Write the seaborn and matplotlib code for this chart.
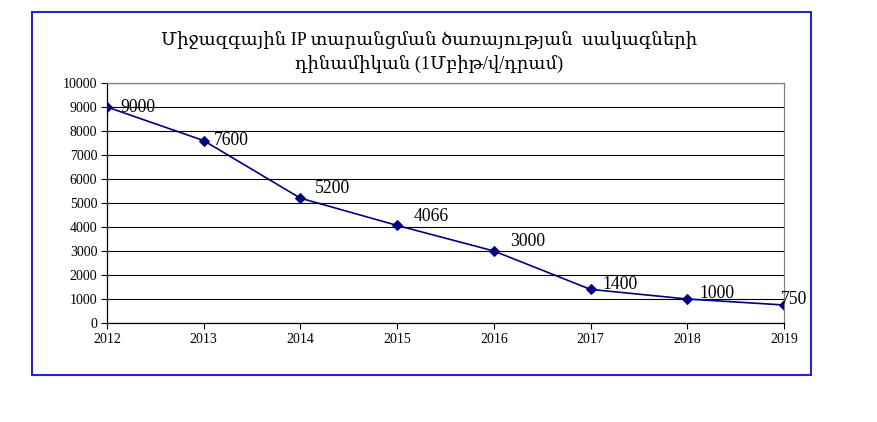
import matplotlib
matplotlib.use("Agg")
import matplotlib.pyplot as plt
import seaborn as sns
import pandas as pd
from matplotlib.patches import Rectangle

years = [2012, 2013, 2014, 2015, 2016, 2017, 2018, 2019]
prices = [9000, 7600, 5200, 4066, 3000, 1400, 1000, 750]
title = "Միջազգային IP տարանցման ծառայության  սակագների\nդինամիկան (1Մբիթ/վ/դրամ)"

sns.set_theme(style="white")
plt.rcParams['font.family'] = ['Liberation Serif', 'DejaVu Serif']

df = pd.DataFrame({"year": years, "price": prices})

fig = plt.figure(figsize=(8.78, 4.22), dpi=100)
W, H = 878, 422
ax = fig.add_axes([107 / W, 1 - 323 / H, (784 - 107) / W, (323 - 83) / H])

sns.lineplot(data=df, x="year", y="price", ax=ax, color="#000080", lw=1.2,
             marker="D", markersize=5.5, markeredgecolor="#000080")

ax.set_xlim(2012, 2019)
ax.set_ylim(0, 10000)
ax.set_yticks(range(0, 10001, 1000))
ax.set_xticks(years)
ax.yaxis.grid(True, color="black", lw=0.8)
ax.xaxis.grid(False)
ax.set_xlabel("")
ax.set_ylabel("")
for s in ["left", "bottom"]:
    ax.spines[s].set_color("black")
    ax.spines[s].set_linewidth(0.9)
for s in ["top", "right"]:
    ax.spines[s].set_color("#808080")
    ax.spines[s].set_linewidth(0.9)
ax.tick_params(axis="both", which="both", direction="out", length=4, width=0.8,
               color="black", labelsize=10, labelcolor="black", pad=3)
ax.tick_params(left=True, bottom=True)

# label offsets in pixels (dx, dy up)
offsets_px = [(13, 0), (10, 0), (14, 10), (16, 9), (16, 9), (12, 5), (12, 5), (-3, 6)]
for (x, y), (dx, dy) in zip(zip(years, prices), offsets_px):
    ax.annotate(str(y), (x, y), xytext=(dx * 0.72, dy * 0.72), textcoords="offset points",
                ha="left", va="center", fontsize=12.7, color="black",
                annotation_clip=False)

fig.text(429 / W, 1 - 53 / H, title, ha="center", va="center",
         fontsize=13, linespacing=1.5, color="black")

fig.patches.append(Rectangle((32 / W, 1 - 375 / H), (811 - 32) / W, (375 - 12) / H,
                             transform=fig.transFigure, fill=False,
                             edgecolor="#2626c8", lw=1.5))

fig.savefig("out.png", dpi=100)
